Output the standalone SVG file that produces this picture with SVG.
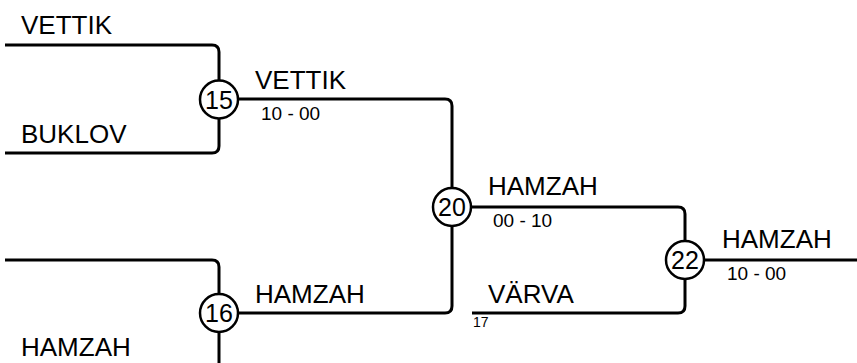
<svg xmlns="http://www.w3.org/2000/svg" width="857" height="363" viewBox="0 0 857 363">
<style>
.ln{fill:none;stroke:#000;stroke-width:3}
.c{fill:#fff;stroke:#000;stroke-width:2.5}
.n{font-family:"Liberation Sans",Arial,sans-serif;font-size:26px;fill:#000}
.s{font-family:"Liberation Sans",Arial,sans-serif;font-size:19px;fill:#000}
.m{font-family:"Liberation Sans",Arial,sans-serif;font-size:25px;fill:#000;text-anchor:middle}
.t{font-family:"Liberation Sans",Arial,sans-serif;font-size:14px;fill:#000}
</style>
<rect width="857" height="363" fill="#fff"/>
<g id="connectors">
<path class="ln" d="M5,45 H212 Q219,45 219,52 V80"/>
<path class="ln" d="M5,153 H212 Q219,153 219,146 V119"/>
<path class="ln" d="M239,99 H445 Q452,99 452,106 V187"/>
<path class="ln" d="M5,260 H212 Q219,260 219,267 V293"/>
<path class="ln" d="M219,333 V363"/>
<path class="ln" d="M239,313 H445 Q452,313 452,306 V227"/>
<path class="ln" d="M472,207 H678 Q685,207 685,214 V240"/>
<path class="ln" d="M472,313 H678 Q685,313 685,306 V280"/>
<path class="ln" d="M705,260 H857"/>
</g>
<g id="node15"><circle class="c" cx="219" cy="99.5" r="19"/><text class="m" x="219" y="108.5">15</text></g>
<g id="node16"><circle class="c" cx="219" cy="313" r="19"/><text class="m" x="219" y="322">16</text></g>
<g id="node20"><circle class="c" cx="452" cy="207" r="19"/><text class="m" x="452" y="216">20</text></g>
<g id="node22"><circle class="c" cx="685" cy="260" r="19"/><text class="m" x="685" y="269">22</text></g>
<g id="labels">
<text class="n" x="21" y="34">VETTIK</text>
<text class="n" x="21" y="143">BUKLOV</text>
<text class="n" x="21" y="356">HAMZAH</text>
<text class="n" x="255" y="89">VETTIK</text>
<text class="s" x="261" y="120">10 - 00</text>
<text class="n" x="255" y="303">HAMZAH</text>
<text class="n" x="488" y="195">HAMZAH</text>
<text class="s" x="493" y="227">00 - 10</text>
<text class="n" x="488" y="303">VÄRVA</text>
<text class="t" x="473" y="327">17</text>
<text class="n" x="722" y="248">HAMZAH</text>
<text class="s" x="727" y="280">10 - 00</text>
</g>
</svg>
